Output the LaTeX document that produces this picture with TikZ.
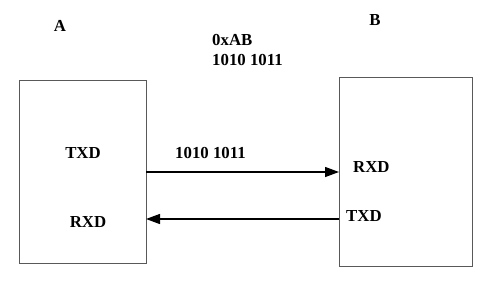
\documentclass[tikz,border=0pt]{standalone}
\usepackage{fontspec}
\setmainfont{Liberation Serif}
\usetikzlibrary{arrows.meta}
\begin{document}
\begin{tikzpicture}[x=1pt,y=-1pt,
  lbl/.style={font=\fontsize{16.8}{19}\selectfont\bfseries, inner sep=0pt},
  dev/.style={draw=black!65, line width=0.9pt},
  sig/.style={line width=1.3pt, -{Triangle[length=14pt,width=10pt]}}]
\useasboundingbox (0,0) rectangle (494,289);
\node[dev, minimum width=127, minimum height=183, anchor=north west, inner sep=0pt] (A) at (19,80) {};
\node[dev, minimum width=133, minimum height=189, anchor=north west, inner sep=0pt] (B) at (339,77) {};
\node[lbl] (la) at (60,26) {A};
\node[lbl] (lb) at (375,20) {B};
\node[lbl, anchor=west] (hex) at (212,40) {0xAB};
\node[lbl, anchor=west] (bin) at (212,60) {1010 1011};
\node[lbl] (atx) at (83,153) {TXD};
\node[lbl] (arx) at (88,222) {RXD};
\node[lbl, anchor=west] (data) at (175,153) {1010 1011};
\node[lbl, anchor=west] (brx) at (353,167) {RXD};
\node[lbl, anchor=west] (btx) at (346,216) {TXD};
\coordinate (a1) at (146,172);
\coordinate (b1) at (339,172);
\coordinate (a2) at (146,219);
\coordinate (b2) at (339,219);
\draw[sig] (a1) -- (b1);
\draw[sig] (b2) -- (a2);
\end{tikzpicture}
\end{document}
